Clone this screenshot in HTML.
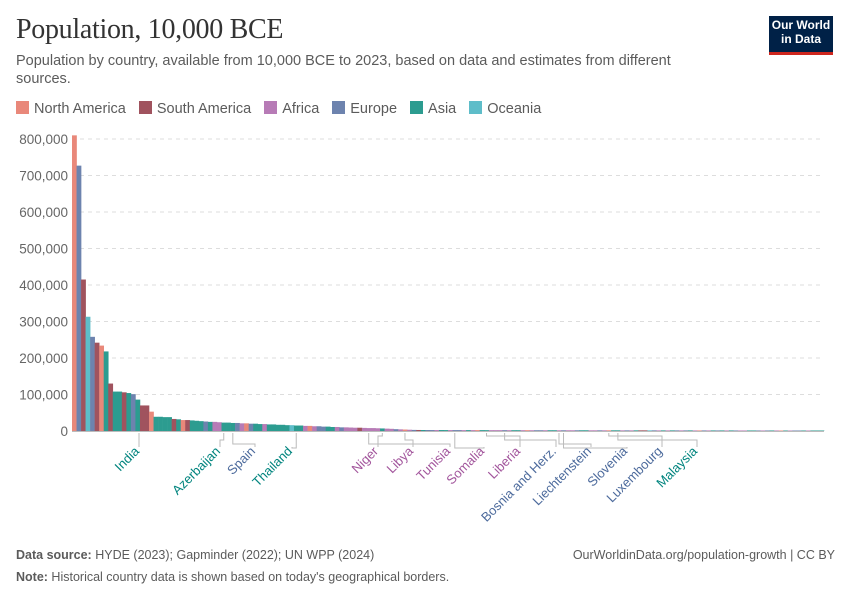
<!DOCTYPE html>
<html><head><meta charset="utf-8"><style>
body{margin:0;background:#fff;font-family:"Liberation Sans",sans-serif;}
#wrap{position:relative;width:850px;height:600px;overflow:hidden;}
.title{position:absolute;left:16px;top:14px;font-family:"Liberation Serif",serif;font-size:28px;color:#333;letter-spacing:-0.3px;}
.sub{position:absolute;left:16px;top:52px;width:700px;font-size:14.5px;line-height:18px;color:#5b5b5b;}
.logo{position:absolute;left:769px;top:16px;width:64px;height:34px;background:#002147;border-bottom:3px solid #ce261e;color:#fff;font-size:12px;line-height:14px;text-align:center;padding-top:2px;box-sizing:content-box;font-weight:bold;}
.legend{position:absolute;left:16px;top:101px;font-size:14.5px;color:#5b5b5b;display:flex;gap:13px;}
.legend span.sw{display:inline-block;width:13px;height:13px;margin-right:5px;vertical-align:-1px;}
.foot{position:absolute;left:16px;font-size:12.5px;color:#5b5b5b;}
</style></head><body><div id="wrap">
<div class="title">Population, 10,000 BCE</div>
<div class="sub">Population by country, available from 10,000 BCE to 2023, based on data and estimates from different sources.</div>
<div class="logo">Our World<br>in Data</div>
<div class="legend">
<div><span class="sw" style="background:#e9887a"></span>North America</div>
<div><span class="sw" style="background:#a0535e"></span>South America</div>
<div><span class="sw" style="background:#b77bb6"></span>Africa</div>
<div><span class="sw" style="background:#6d83ae"></span>Europe</div>
<div><span class="sw" style="background:#2c9c90"></span>Asia</div>
<div><span class="sw" style="background:#5ebdc9"></span>Oceania</div>
</div>
<svg id="chart" width="850" height="600" style="position:absolute;left:0;top:0"></svg>
<div class="foot" style="top:548px"><b>Data source:</b> HYDE (2023); Gapminder (2022); UN WPP (2024)</div>
<div class="foot" style="top:548px;left:auto;right:15px">OurWorldinData.org/population-growth | CC BY</div>
<div class="foot" style="top:570px"><b>Note:</b> Historical country data is shown based on today's geographical borders.</div>
</div>
<script>
const values=[810000,727000,415000,313000,258000,242000,234000,218000,130000,108000,108000,106000,104000,101000,86000,70000,70000,53000,39000,39000,38000,38000,33000,32000,30000,
30000,29000,28000,27000,26000,25000,25000,24000,23000,23000,22000,22000,21000,21000,20000,20000,
19000,19000,18000,18000,17000,17000,16000,16000,15000,15000,14000,14000,13000,13000,12000,12000,11000,11000,10000,10000,
9500,9000,9000,8500,8000,8000,7500,7000,6500,6000,5000,4500,4000,3500,3000,
2800,2700,2700,2600,2600,2600,2500,2500,2500,2500,2400,2400,2400,2400,2400,2300,2300,2300,2300,2300,2200,2200,2200,2200,2200,2100,2100,2100,2100,2100,2100,2000,2000,2000,2000,2000,2000,2000,1900,1900,1900,1900,1900,1900,1900,1800,1800,1800,1800,1800,1800,1800,1800,1700,1700,1700,1700,1700,1700,1700,1700,1600,1600,1600,1600,1600,1600,1600,1600,1600,1500,1500,1500,1500,1500,1500,1500,1500,1500,1500,1400,1400,1400,1400,1400,1400,1400,1400,1400,1400];
const regions="NESOESNASAASAEASSNAAAASANSAAAEAFFAAAEFNEAAFAAAAAOAAFNFEEAAFEFFFSFFFFAFFEFNFESAEEFAAFEEFAFNAAFFFEFAAFNFEEFAAFEFFEAAFFEFNAAFEFASSOEFAFAEFEAFNEFAEAFAEFFAAEFEAFNAFEEAF";
const regionColors={N:"#e9887a",S:"#a0535e",F:"#b77bb6",E:"#6d83ae",A:"#2c9c90",O:"#5ebdc9"};
const yTicks=[0,100000,200000,300000,400000,500000,600000,700000,800000];
const labelNames=["India","Azerbaijan","Spain","Thailand","Niger","Libya","Tunisia","Somalia","Liberia","Bosnia and Herz.","Liechtenstein","Slovenia","Luxembourg","Malaysia"];
const labelBars=[14,33,35,49,68,73,65,84,91,95,107,108,118,120];
const labelRegion=["A","A","E","A","F","F","F","F","F","E","E","E","E","A"];
const labelX=[139,220,255,292,378,413,450,484,520,556,591,627,662,697];
const labelCol={A:"#00847e",E:"#4c6a9c",F:"#a2559c"};

const svg=document.getElementById('chart');
const NS="http://www.w3.org/2000/svg";
const x0=72,x1=824,y0=431,yTop=139,ymax=800000;
const bw=(x1-x0)/values.length;
const y=v=>y0-(v/ymax)*(y0-yTop);
const xb=i=>x0+i*bw;
function mk(t,a){const e=document.createElementNS(NS,t);for(const k in a)e.setAttribute(k,a[k]);svg.appendChild(e);return e;}
yTicks.forEach((t,i)=>{
 if(t>0){const g=mk('line',{x1:x0,x2:x1,y1:y(t),y2:y(t),stroke:'#ddd','stroke-dasharray':'4,4'});
 
 }
 const tx=mk('text',{x:68,y:y(t)+5,'text-anchor':'end','font-size':'13.5','fill':'#666','font-family':'Liberation Sans'});
 tx.textContent=t.toLocaleString('en-US');
 
 
});
values.forEach((v,i)=>{
 const c=regionColors[regions[i]]||"#2c9c90";
 const r=mk('rect',{x:xb(i),y:y(v),width:bw+0.3,height:y0-y(v),fill:c});
 
 
});
const ax=mk('line',{x1:x0,x2:x1,y1:y0+0.5,y2:y0+0.5,stroke:'#bbb'});


labelNames.forEach((n,k)=>{
 const bx=xb(labelBars[k])+bw/2, lx=labelX[k];
 const mid=Math.abs(bx-lx)<3?0:(436+(k%4)*4);
 const pts=mid?`${bx},433 ${bx},${mid} ${lx},${mid} ${lx},447`:`${lx},433 ${lx},447`;
 const pl=mk('polyline',{points:pts,fill:'none',stroke:'#bbb','stroke-width':1});
 
 
 const t=mk('text',{x:lx+1,y:452,'text-anchor':'end','font-size':'13','fill':labelCol[labelRegion[k]],'font-family':'Liberation Sans',transform:`rotate(-45 ${lx+1} 452)`});
 t.textContent=n;
 
 
});
</script>
</body></html>
